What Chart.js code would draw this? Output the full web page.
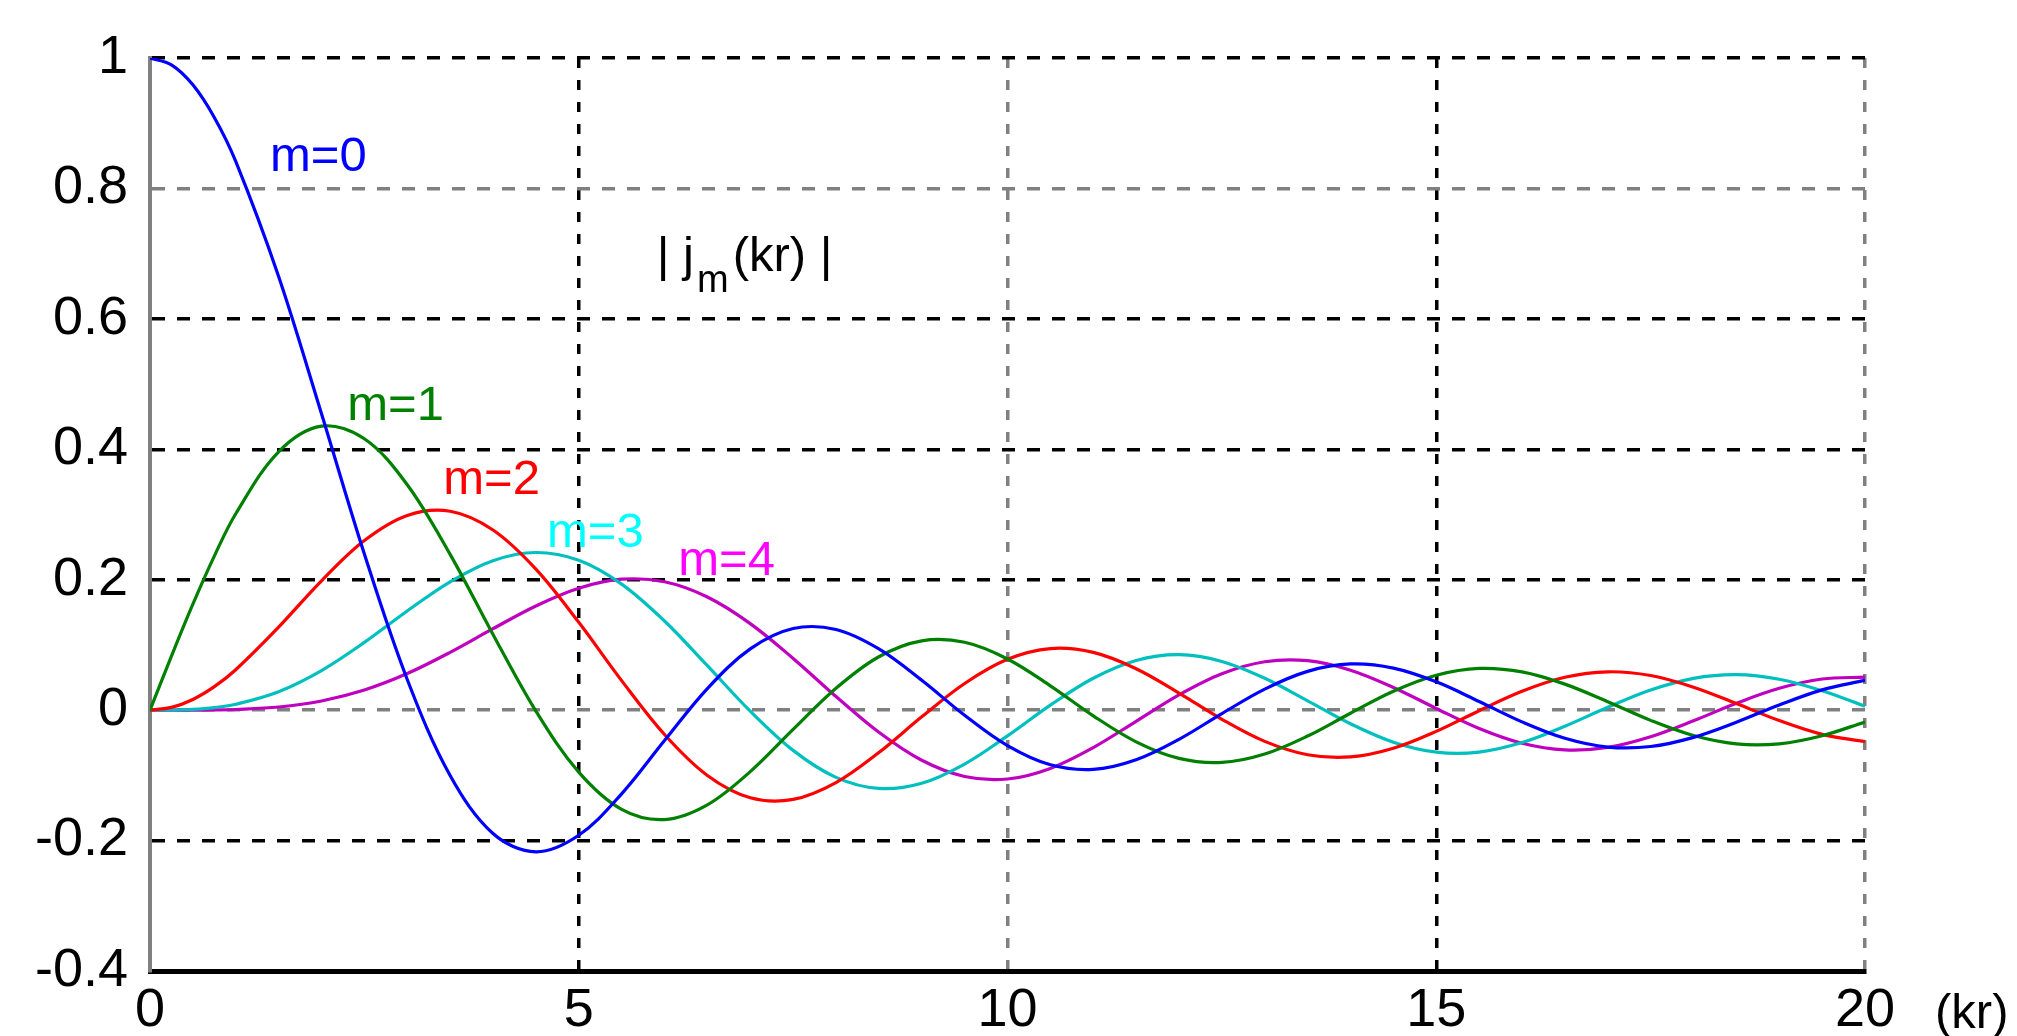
<!DOCTYPE html>
<html><head><meta charset="utf-8">
<script src="https://cdn.jsdelivr.net/npm/chart.js@4/dist/chart.umd.min.js"></script>
<style>html,body{margin:0;padding:0;background:#fff;overflow:hidden}#wrap{width:2017px;height:1036px}</style>
</head><body><div id="wrap"><canvas id="c" width="2017" height="1036"></canvas></div>
<script>
// ---- data ----
const kr = [0,0.25,0.5,0.75,1,1.5,2,2.5,3,3.5,4,4.5,5,5.5,6,6.5,7,7.5,8,8.5,9,9.5,10,10.5,11,11.5,12,12.5,13,13.5,14,14.5,15,15.5,16,16.5,17,17.5,18,18.5,19,19.5,20];
const m0 = [1,0.9896,0.9589,0.9089,0.8415,0.6650,0.4546,0.2394,0.0470,-0.1002,-0.1892,-0.2172,-0.1918,-0.1283,-0.0466,0.0331,0.0939,0.1251,0.1237,0.0939,0.0458,-0.0079,-0.0544,-0.0838,-0.0909,-0.0761,-0.0447,-0.0053,0.0323,0.0595,0.0708,0.0645,0.0434,0.0133,-0.0180,-0.0432,-0.0566,-0.0558,-0.0417,-0.0185,0.0079,0.0311,0.0456];
const m1 = [0,0.0828,0.1625,0.2362,0.3012,0.3962,0.4354,0.4162,0.3457,0.2389,0.1161,-0.0014,-0.0951,-0.1522,-0.1678,-0.1452,-0.0943,-0.0295,0.0336,0.0819,0.1063,0.1041,0.0785,0.0373,-0.0087,-0.0486,-0.0740,-0.0802,-0.0673,-0.0397,-0.0047,0.0289,0.0535,0.0640,0.0587,0.0399,0.0129,-0.0157,-0.0390,-0.0518,-0.0516,-0.0392,-0.0181];
const m2 = [0,0.0042,0.0164,0.0360,0.0620,0.1273,0.1984,0.2601,0.2986,0.3050,0.2763,0.2163,0.1347,0.0453,-0.0373,-0.1001,-0.1343,-0.1369,-0.1111,-0.0650,-0.0103,0.0408,0.0779,0.0944,0.0885,0.0635,0.0262,-0.0140,-0.0479,-0.0684,-0.0718,-0.0585,-0.0326,-0.0009,0.0290,0.0504,0.0588,0.0531,0.0352,0.0101,-0.0160,-0.0371,-0.0484];
const m3 = [0,0.0002,0.0012,0.0039,0.0090,0.0283,0.0607,0.1039,0.1521,0.1968,0.2292,0.2417,0.2298,0.1933,0.1367,0.0682,-0.0016,-0.0617,-0.1031,-0.1201,-0.1121,-0.0827,-0.0395,0.0077,0.0489,0.0762,0.0850,0.0747,0.0489,0.0143,-0.0209,-0.0491,-0.0644,-0.0643,-0.0497,-0.0246,0.0044,0.0309,0.0488,0.0545,0.0474,0.0297,0.0060];
const m4 = [0,0,0.0001,0.0003,0.0010,0.0048,0.0141,0.0309,0.0561,0.0886,0.1249,0.1598,0.1870,0.2008,0.1968,0.1735,0.1327,0.0793,0.0209,-0.0339,-0.0768,-0.1017,-0.1056,-0.0893,-0.0574,-0.0171,0.0234,0.0558,0.0742,0.0758,0.0613,0.0348,0.0026,-0.0281,-0.0507,-0.0609,-0.0570,-0.0407,-0.0163,0.0105,0.0335,0.0478,0.0505];
const seriesNames = ['m=0','m=1','m=2','m=3','m=4'];
const xTicks = [0,5,10,15,20];
const xTickLabels = ['0','5','10','15','20'];
const yTicks = [-0.4,-0.2,0,0.2,0.4,0.6,0.8,1];
const yTickLabels = ['-0.4','-0.2','0','0.2','0.4','0.6','0.8','1'];
const xUnit = '(kr)';
const titleParts = ['| j','m','(kr) |'];

// ---- styles ----
const lineColors = ['#0000ff','#008000','#ff0000','#00bfbf','#bf00bf'];
const textColors = ['#0000ff','#008000','#ff0000','#00ffff','#ff00ff'];
const labelAt = [[1.40,0.826],[2.30,0.445],[3.42,0.332],[4.63,0.250],[6.16,0.207]];
const titleAt = [5.91,0.673];
const FONT = '"Liberation Sans", Arial, sans-serif';

const series = [m0,m1,m2,m3,m4];
const datasets = series.map((s,i)=>({
  label: seriesNames[i],
  data: kr.map((x,j)=>({x:x, y:s[j]})),
  borderColor: lineColors[i],
  backgroundColor: lineColors[i],
  borderWidth: 3.2,
  pointRadius: 0,
  tension: 0.35,
  fill: false
}));

const near = (a,b)=>Math.abs(a-b)<1e-6;

const annot = {
  id:'annot',
  afterDatasetsDraw(chart){
    const {ctx, scales:{x,y}} = chart;
    ctx.save();
    ctx.textAlign='left'; ctx.textBaseline='alphabetic';
    ctx.font = '49px '+FONT;
    labelAt.forEach((p,i)=>{
      ctx.fillStyle = textColors[i];
      ctx.fillText(seriesNames[i], x.getPixelForValue(p[0]), y.getPixelForValue(p[1]));
    });
    // title | j_m(kr) |
    ctx.fillStyle = '#000';
    let tx = x.getPixelForValue(titleAt[0]);
    const ty = y.getPixelForValue(titleAt[1]);
    ctx.font = '49px '+FONT;
    ctx.fillText(titleParts[0], tx, ty);
    tx += ctx.measureText(titleParts[0]).width + 3;
    ctx.font = '38px '+FONT;
    ctx.fillText(titleParts[1], tx, ty + 21);
    tx += ctx.measureText(titleParts[1]).width + 4;
    ctx.font = '49px '+FONT;
    ctx.fillText(titleParts[2], tx, ty);
    // unit label after last x tick
    ctx.font = '49px '+FONT;
    ctx.fillText(xUnit, x.right + 70, x.top + 57);
    ctx.restore();
  }
};

new Chart(document.getElementById('c'), {
  type: 'line',
  data: { datasets },
  options: {
    responsive: false,
    devicePixelRatio: 1,
    animation: false,
    events: [],
    layout: { padding: { left: 0, top: 58, right: 152, bottom: 0 } },
    plugins: { legend: { display: false }, tooltip: { enabled: false }, title: { display: false } },
    scales: {
      x: {
        type: 'linear', min: 0, max: 20,
        afterBuildTicks: s => { s.ticks = xTicks.map(v=>({value:v})); },
        afterFit: s => { s.height = 65; },
        ticks: {
          autoSkip: false, maxRotation: 0, padding: 8,
          color: '#000', font: { family: FONT, size: 54 },
          callback: (v) => { const i = xTicks.findIndex(t=>near(t,v)); return i>=0 ? xTickLabels[i] : ''; }
        },
        grid: {
          drawTicks: false,
          lineWidth: 3.5,
          color: c => { const v = c.tick ? c.tick.value : 0;
            if (near(v,0)) return 'rgba(0,0,0,0)';
            if (near(v,10) || near(v,20)) return '#808080';
            return '#000'; }
        },
        border: { display: true, color: '#000', width: 5, dash: [10,12] }
      },
      y: {
        type: 'linear', min: -0.4, max: 1,
        afterBuildTicks: s => { s.ticks = yTicks.map(v=>({value:v})); },
        afterFit: s => { s.width = 150; },
        ticks: {
          autoSkip: false, padding: 22,
          color: '#000', font: { family: FONT, size: 54 },
          callback: (v) => { const i = yTicks.findIndex(t=>near(t,v)); return i>=0 ? yTickLabels[i] : ''; }
        },
        grid: {
          drawTicks: false,
          lineWidth: 3.5,
          color: c => { const v = c.tick ? c.tick.value : 0;
            if (near(v,-0.4)) return 'rgba(0,0,0,0)';
            if (near(v,0.8) || near(v,0)) return '#808080';
            return '#000'; }
        },
        border: { display: true, color: '#808080', width: 4, dash: [13,12] }
      }
    }
  },
  plugins: [annot]
});
</script>
</body></html>
